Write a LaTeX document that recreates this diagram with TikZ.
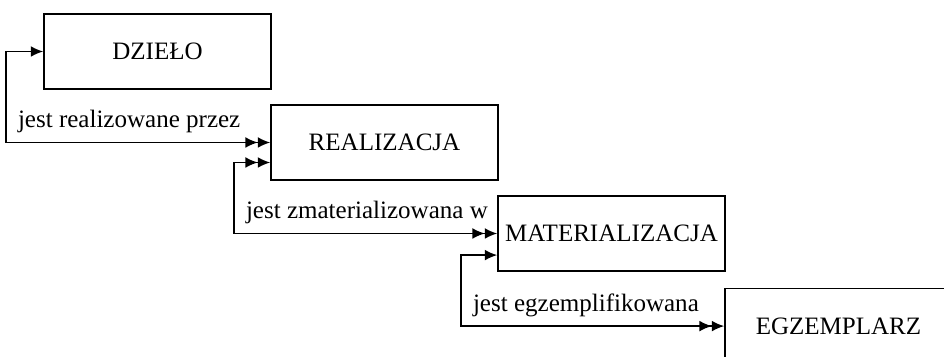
\documentclass[tikz,border=0pt]{standalone}
\usepackage{fontspec}
\setmainfont{Liberation Serif}
\usetikzlibrary{arrows.meta}

\begin{document}
\begin{tikzpicture}[
  hd/.tip={Latex[length=3.1mm,width=2.7mm]},
  entbox/.style={draw, line width=1.1pt, minimum width=5.675cm, minimum height=1.875cm, inner sep=0pt, font=\fontsize{17.8}{20}\selectfont},
  rel/.style={line width=1.1pt},
  lab/.style={anchor=base west, inner sep=0pt, xshift=0.275cm, yshift=0.375cm, font=\fontsize{17.8}{20}\selectfont}
]
\clip (0,0) rectangle (23.6,8.925);

\def\dx{5.675}
\def\dy{2.275}
\def\xa{3.9375}
\def\ya{7.6375}

\node[entbox] (dzielo) at (\xa, \ya) {DZIEŁO};
\node[entbox] (realizacja) at (\xa + \dx, \ya - \dy) {REALIZACJA};
\node[entbox] (materializacja) at (\xa + 2*\dx, \ya - 2*\dy) {MATERIALIZACJA};
\node[entbox] (egzemplarz) at (\xa + 3*\dx, \ya - 3*\dy - 0.04) {EGZEMPLARZ};

\draw[rel, {hd[]}-{hd[]hd[]}] (dzielo.west) -- ++(-0.925,0) |- (realizacja.west)
  node[lab, pos=0.5] {jest realizowane przez};
\draw[rel, {hd[]hd[]}-{hd[]hd[]}] ([yshift=-0.5cm]realizacja.west) -- ++(-0.9,0) |- (materializacja.west)
  node[lab, pos=0.5] {jest zmaterializowana w};
\draw[rel, {hd[]}-{hd[]hd[]}] ([yshift=-0.54cm]materializacja.west) -- ++(-0.9,0) |- (egzemplarz.west)
  node[lab, pos=0.5] {jest egzemplifikowana};

\end{tikzpicture}
\end{document}
